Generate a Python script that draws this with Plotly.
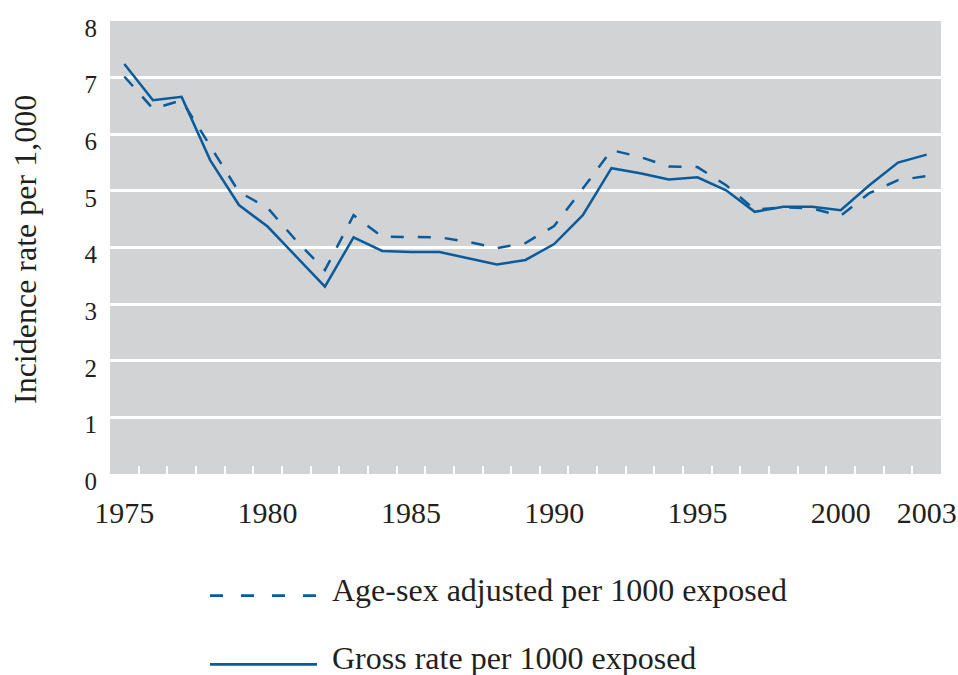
import plotly.graph_objects as go

# ---- data ----
years = list(range(1975, 2004))
gross_rate = [7.24, 6.60, 6.66, 5.54, 4.75, 4.37, 3.84, 3.31, 4.18, 3.94,
              3.92, 3.92, 3.81, 3.70, 3.78, 4.06, 4.57, 5.40, 5.31, 5.20,
              5.24, 5.01, 4.63, 4.72, 4.72, 4.66, 5.10, 5.50, 5.64]
adjusted_rate = [7.02, 6.45, 6.60, 5.78, 4.98, 4.70, 4.12, 3.60, 4.57, 4.19,
                 4.19, 4.18, 4.10, 3.99, 4.08, 4.38, 5.04, 5.72, 5.60, 5.43,
                 5.42, 5.10, 4.67, 4.71, 4.69, 4.56, 4.96, 5.19, 5.26]
x_tick_years = [1975, 1980, 1985, 1990, 1995, 2000, 2003]
y_tick_values = [0, 1, 2, 3, 4, 5, 6, 7, 8]
series_names = ["Age-sex adjusted per 1000 exposed", "Gross rate per 1000 exposed"]
y_title = "Incidence rate per 1,000"

# ---- style ----
W, H = 958, 675
L, R, T, B = 110, 17, 21, 201
BLUE = "#0a5b9b"
TEXT = "#231f20"
FONT = "Liberation Serif"
BG = "#d1d3d4"


def px(x):
    """page x pixel -> paper coordinate"""
    return (x - L) / (W - L - R)


def py(y):
    """page y pixel -> paper coordinate"""
    return (H - B - y) / (H - T - B)


boundaries = [years[0] - 0.5] + [y + 0.5 for y in years[:-1]]
xr = [years[0] - 0.5, years[-1] + 0.5]

fig = go.Figure()
fig.add_trace(go.Scatter(x=years, y=adjusted_rate, mode="lines", name=series_names[0],
                         line=dict(color=BLUE, width=2.5, dash="13px,14px"),
                         showlegend=False, hoverinfo="x+y"))
fig.add_trace(go.Scatter(x=years, y=gross_rate, mode="lines", name=series_names[1],
                         line=dict(color=BLUE, width=2.5),
                         showlegend=False, hoverinfo="x+y"))
# invisible trace on the tick axis so it is drawn
fig.add_trace(go.Scatter(x=[xr[0]], y=[0], xaxis="x2", mode="markers",
                         marker=dict(opacity=0), showlegend=False, hoverinfo="skip"))

fig.update_layout(
    width=W, height=H,
    margin=dict(l=L, r=R, t=T, b=B, autoexpand=False),
    paper_bgcolor="white",
    plot_bgcolor=BG,
    font=dict(family=FONT, color=TEXT),
    xaxis=dict(range=xr, tickvals=x_tick_years, ticktext=[str(v) for v in x_tick_years],
               showgrid=False, zeroline=False, showline=False, ticks="",
               tickfont=dict(size=30, family=FONT, color=TEXT),
               ticklabelstandoff=18, automargin=False, ticklabeloverflow="allow"),
    xaxis2=dict(range=xr, overlaying="x", anchor="y", side="bottom",
                tickvals=boundaries, ticks="inside", ticklen=8, tickwidth=2,
                tickcolor="white", showticklabels=False, showgrid=False,
                zeroline=False, showline=False, automargin=False),
    yaxis=dict(range=[0, 8], tickvals=y_tick_values, showgrid=True, gridcolor="white",
               gridwidth=2.5, zeroline=False, showline=False, ticks="",
               tickfont=dict(size=25, family=FONT, color=TEXT),
               ticklabelstandoff=12, ticklabelshift=7, automargin=False,
               ticklabeloverflow="allow"),
)

annotations = [
    dict(text=y_title, xref="paper", yref="paper", x=px(25), y=py(250),
         textangle=-90, showarrow=False, xanchor="center", yanchor="middle",
         font=dict(size=32, family=FONT, color=TEXT)),
    dict(text=series_names[0], xref="paper", yref="paper", x=px(330), y=py(590),
         showarrow=False, xanchor="left", yanchor="middle",
         font=dict(size=32, family=FONT, color=TEXT)),
    dict(text=series_names[1], xref="paper", yref="paper", x=px(330), y=py(658),
         showarrow=False, xanchor="left", yanchor="middle",
         font=dict(size=32, family=FONT, color=TEXT)),
]
fig.update_layout(annotations=annotations)

fig.add_shape(type="line", xref="paper", yref="paper", x0=px(210), x1=px(317),
              y0=py(595.7), y1=py(595.7), line=dict(color=BLUE, width=2.7, dash="13px,18px"))
fig.add_shape(type="line", xref="paper", yref="paper", x0=px(210), x1=px(317),
              y0=py(664.3), y1=py(664.3), line=dict(color=BLUE, width=2.7))

fig.write_html("out.html",
               config={"displayModeBar": False},
               post_script="document.body.style.margin='0';document.body.style.overflow='hidden';")
